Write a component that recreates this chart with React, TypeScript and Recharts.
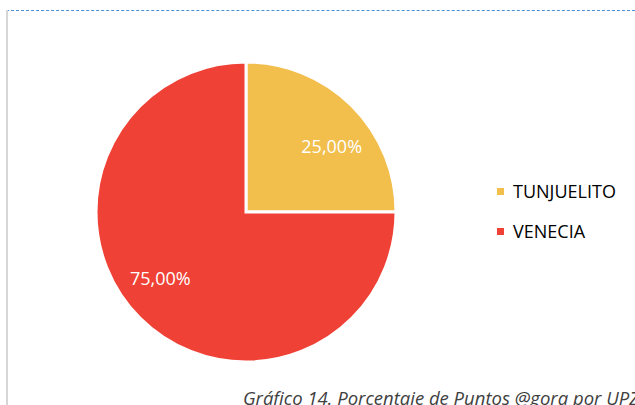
import { PieChart, Pie, Cell, Legend } from 'recharts'

const zones = ['TUNJUELITO', 'VENECIA']
const shares = [25, 75]
const colors = ['#F2BE4C', '#EF4135']
const caption = 'Gráfico 14. Porcentaje de Puntos @gora por UPZ'

const data = zones.map((name, i) => ({ name, value: shares[i] }))

const RADIAN = Math.PI / 180
const fontFamily = '"Open Sans", "Noto Sans", sans-serif'

const renderLabel = ({ cx, cy, midAngle, outerRadius, value }: any) => {
    // excel-ish placement, slightly rotated from the slice middle
    const a = (midAngle - 7.5) * RADIAN
    const r = outerRadius * 0.72
    const x = cx + r * Math.cos(a)
    const y = cy - r * Math.sin(a)
    return (
        <text x={x} y={y} fill="#ffffff" textAnchor="middle" dominantBaseline="central"
            style={{ fontSize: 18, fontFamily }}>
            {value.toFixed(2).replace('.', ',')}%
        </text>
    )
}

const LegendContent = () => (
    <div>
        {zones.map((z, i) => (
            <div key={`leg-${i}`} style={{ display: 'flex', alignItems: 'center', height: 20, marginBottom: i === 0 ? 20 : 0 }}>
                <span style={{ width: 7, height: 7, background: colors[i], marginRight: 9, display: 'inline-block', flex: 'none' }} />
                <span style={{ fontSize: 18, color: '#000', fontFamily, lineHeight: '20px' }}>{z}</span>
            </div>
        ))}
    </div>
)

const App = () => {
    return (
        <div style={{ position: 'fixed', left: 0, top: 0, width: 635, height: 405, overflow: 'hidden', background: '#fff' }}>
            <div style={{ position: 'absolute', left: 6, top: 10, right: 0, borderTop: '1px dashed #4a90d9' }} />
            <div style={{ position: 'absolute', left: 6, top: 10, bottom: 0, width: 2, background: '#d6d6d6' }} />
            <div style={{ position: 'absolute', left: 0, top: 0 }}>
                <PieChart width={635} height={405} margin={{ top: 0, right: 0, bottom: 0, left: 0 }}>
                    <Pie
                        data={data}
                        dataKey="value"
                        nameKey="name"
                        cx={246}
                        cy={212}
                        outerRadius={150}
                        startAngle={90}
                        endAngle={-270}
                        stroke="#ffffff"
                        strokeWidth={3}
                        label={renderLabel}
                        labelLine={false}
                        isAnimationActive={false}
                    >
                        {data.map((entry, index) => (
                            <Cell key={`cell-${index}`} fill={colors[index]} />
                        ))}
                    </Pie>
                    <Legend
                        layout="vertical"
                        verticalAlign="middle"
                        align="right"
                        content={<LegendContent />}
                        wrapperStyle={{ left: 497, top: 181, width: 138 }}
                    />
                </PieChart>
            </div>
            <div style={{
                position: 'absolute', left: 243, top: 385, whiteSpace: 'nowrap',
                fontStyle: 'italic', fontSize: 18.5, color: '#404040', fontFamily
            }}>
                {caption}
            </div>
        </div>
    )
}

export default App
